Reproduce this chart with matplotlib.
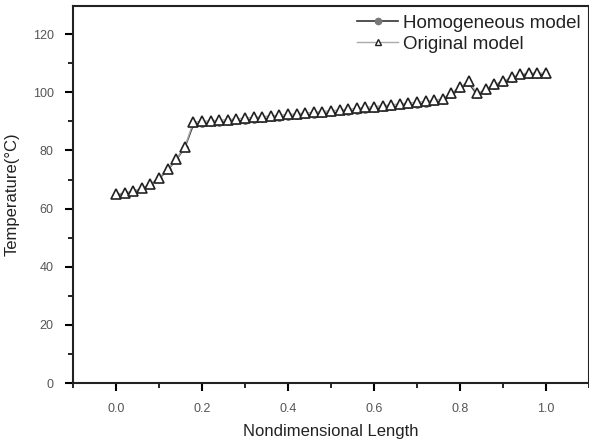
import matplotlib.pyplot as plt
import numpy as np

plt.rcParams['font.family'] = ['Liberation Sans', 'DejaVu Sans']

# nondimensional position along the length
length = np.linspace(0.0, 1.0, 51)

temp_original = [65.0, 65.4, 66.0, 67.0, 68.5, 70.5, 73.5, 77.0, 81.2, 89.8,
                 90.0, 90.2, 90.4, 90.6, 90.9, 91.1, 91.4, 91.6, 91.9, 92.1,
                 92.4, 92.6, 92.9, 93.1, 93.4, 93.7, 93.9, 94.2, 94.5, 94.8,
                 95.1, 95.4, 95.7, 96.0, 96.3, 96.6, 96.9, 97.3, 97.8, 99.7,
                 101.8, 103.8, 99.7, 101.0, 102.8, 103.8, 105.2, 106.3, 106.6, 106.6,
                 106.6]

temp_homog = [64.8, 65.2, 65.8, 66.8, 68.3, 70.3, 73.3, 76.8, 81.0, 89.0,
              89.2, 89.4, 89.6, 89.8, 90.1, 90.3, 90.6, 90.8, 91.1, 91.3,
              91.6, 91.8, 92.1, 92.3, 92.6, 92.9, 93.1, 93.4, 93.7, 94.0,
              94.3, 94.6, 94.9, 95.2, 95.5, 95.8, 96.1, 96.5, 97.0, 99.0,
              101.2, 103.2, 99.2, 100.5, 102.3, 103.3, 104.7, 105.8, 106.1, 106.1,
              106.1]

fig = plt.figure(figsize=(5.89, 4.46), dpi=100)
ax = fig.add_axes([0.124, 0.141, 0.876, 0.845])

ax.plot(length, temp_homog, color='#333333', lw=1.2, marker='o', ms=4,
        mfc='#777777', mec='#777777', label='Homogeneous model')
ax.plot(length, temp_original, color='#aaaaaa', lw=1.0, marker='^', ms=6.5,
        mfc='white', mec='#222222', mew=1.2, label='Original model')

ax.set_xlim(-0.1, 1.1)
ax.set_ylim(0, 129.6)
ax.set_xticks([0.0, 0.2, 0.4, 0.6, 0.8, 1.0])
ax.set_xticks(np.arange(-0.1, 1.11, 0.1), minor=True)
ax.set_yticks(range(0, 121, 20))
ax.set_yticks(range(10, 130, 20), minor=True)
ax.set_xticklabels(['0.0', '0.2', '0.4', '0.6', '0.8', '1.0'])

ax.tick_params(which='major', direction='out', length=6, width=1.5,
               labelsize=9, labelcolor='#555555', pad=8)
ax.tick_params(which='minor', direction='out', length=3.5, width=1.2)
for s in ax.spines.values():
    s.set_linewidth(1.5)
    s.set_color('#222222')

ax.set_xlabel('Nondimensional Length', fontsize=12, color='#222222', labelpad=7)
ax.set_ylabel('Temperature(°C)', fontsize=12, color='#222222', labelpad=9)

leg = ax.legend(loc='upper right', frameon=False, fontsize=13.5,
                handlelength=2.2, borderaxespad=0.15, labelspacing=0.2,
                handletextpad=0.25, borderpad=0.3)
# legend symbols sized independently of the plotted markers
leg.legend_handles[0].set_markersize(4.5)
leg.legend_handles[1].set_markersize(5)
leg.legend_handles[1].set_markeredgewidth(1.0)
for t in leg.get_texts():
    t.set_color('#222222')

fig.savefig('out.png', dpi=100)
